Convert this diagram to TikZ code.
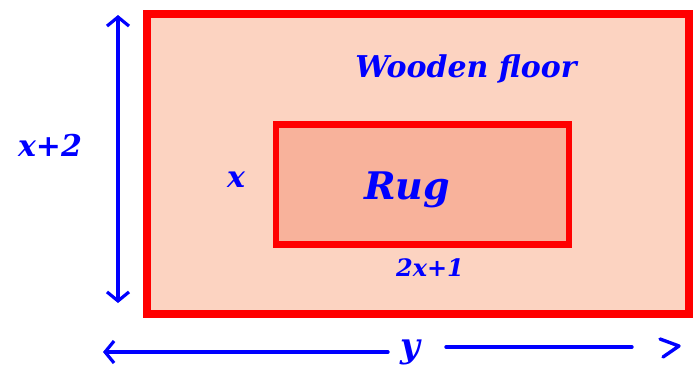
\documentclass[tikz,border=0pt]{standalone}
\usepackage{fontspec}
\setmainfont{DejaVu Serif}
\usetikzlibrary{arrows.meta}
\definecolor{floorfill}{HTML}{FCD3C1}
\definecolor{rugfill}{HTML}{F8B29B}
\definecolor{redline}{HTML}{FF0000}
\definecolor{penblue}{HTML}{0000FF}
\begin{document}
\begin{tikzpicture}[x=1pt,y=-1pt,
  room/.style={draw=redline,line width=7.5pt,fill=floorfill,minimum width=542pt,minimum height=300pt,inner sep=0pt},
  rugbox/.style={draw=redline,line width=6.5pt,fill=rugfill,minimum width=293pt,minimum height=120pt,inner sep=0pt},
  pen/.style={text=penblue,font=\bfseries\itshape},
  penline/.style={draw=penblue,line width=3.4pt,line cap=round,line join=round},
  barb/.style={-{Straight Barb[length=9pt,width=22pt,line width=3.2pt]}}]
\useasboundingbox (0,0) rectangle (693,378);
\node[room] (floor) at (418,164) {};
\node[rugbox] (rug) at (422.5,184.5) {};
\node[pen,font=\bfseries\itshape\fontsize{30}{32}\selectfont] (wood) at (466,69) {Wooden floor};
\node[pen,font=\bfseries\itshape\fontsize{38}{40}\selectfont] (rugt) at (407,190) {Rug};
\node[pen,font=\bfseries\itshape\fontsize{30}{32}\selectfont] (xl) at (236,180) {x};
\node[pen,font=\bfseries\itshape\fontsize{30}{32}\selectfont] (xp2) at (50,145) {x+2};
\node[pen,font=\bfseries\itshape\fontsize{24}{26}\selectfont] (w) at (430,268) {2x+1};
\node[pen,font=\bfseries\itshape\fontsize{34}{36}\selectfont] (yl) at (410,352) {y};
\coordinate (vt) at (118,15);
\coordinate (vb) at (118,303);
\coordinate (hl) at (103,352);
\coordinate (hr) at (632,347);
\draw[penline,barb] (118,160) -- (vt);
\draw[penline,barb] (118,160) -- (vb);
\draw[penline,barb] (388,352) -- (hl);
\draw[penline] (446,347) -- (hr);
\draw[penline] (660,339) -- (679,346) -- (663,357);
\end{tikzpicture}
\end{document}
